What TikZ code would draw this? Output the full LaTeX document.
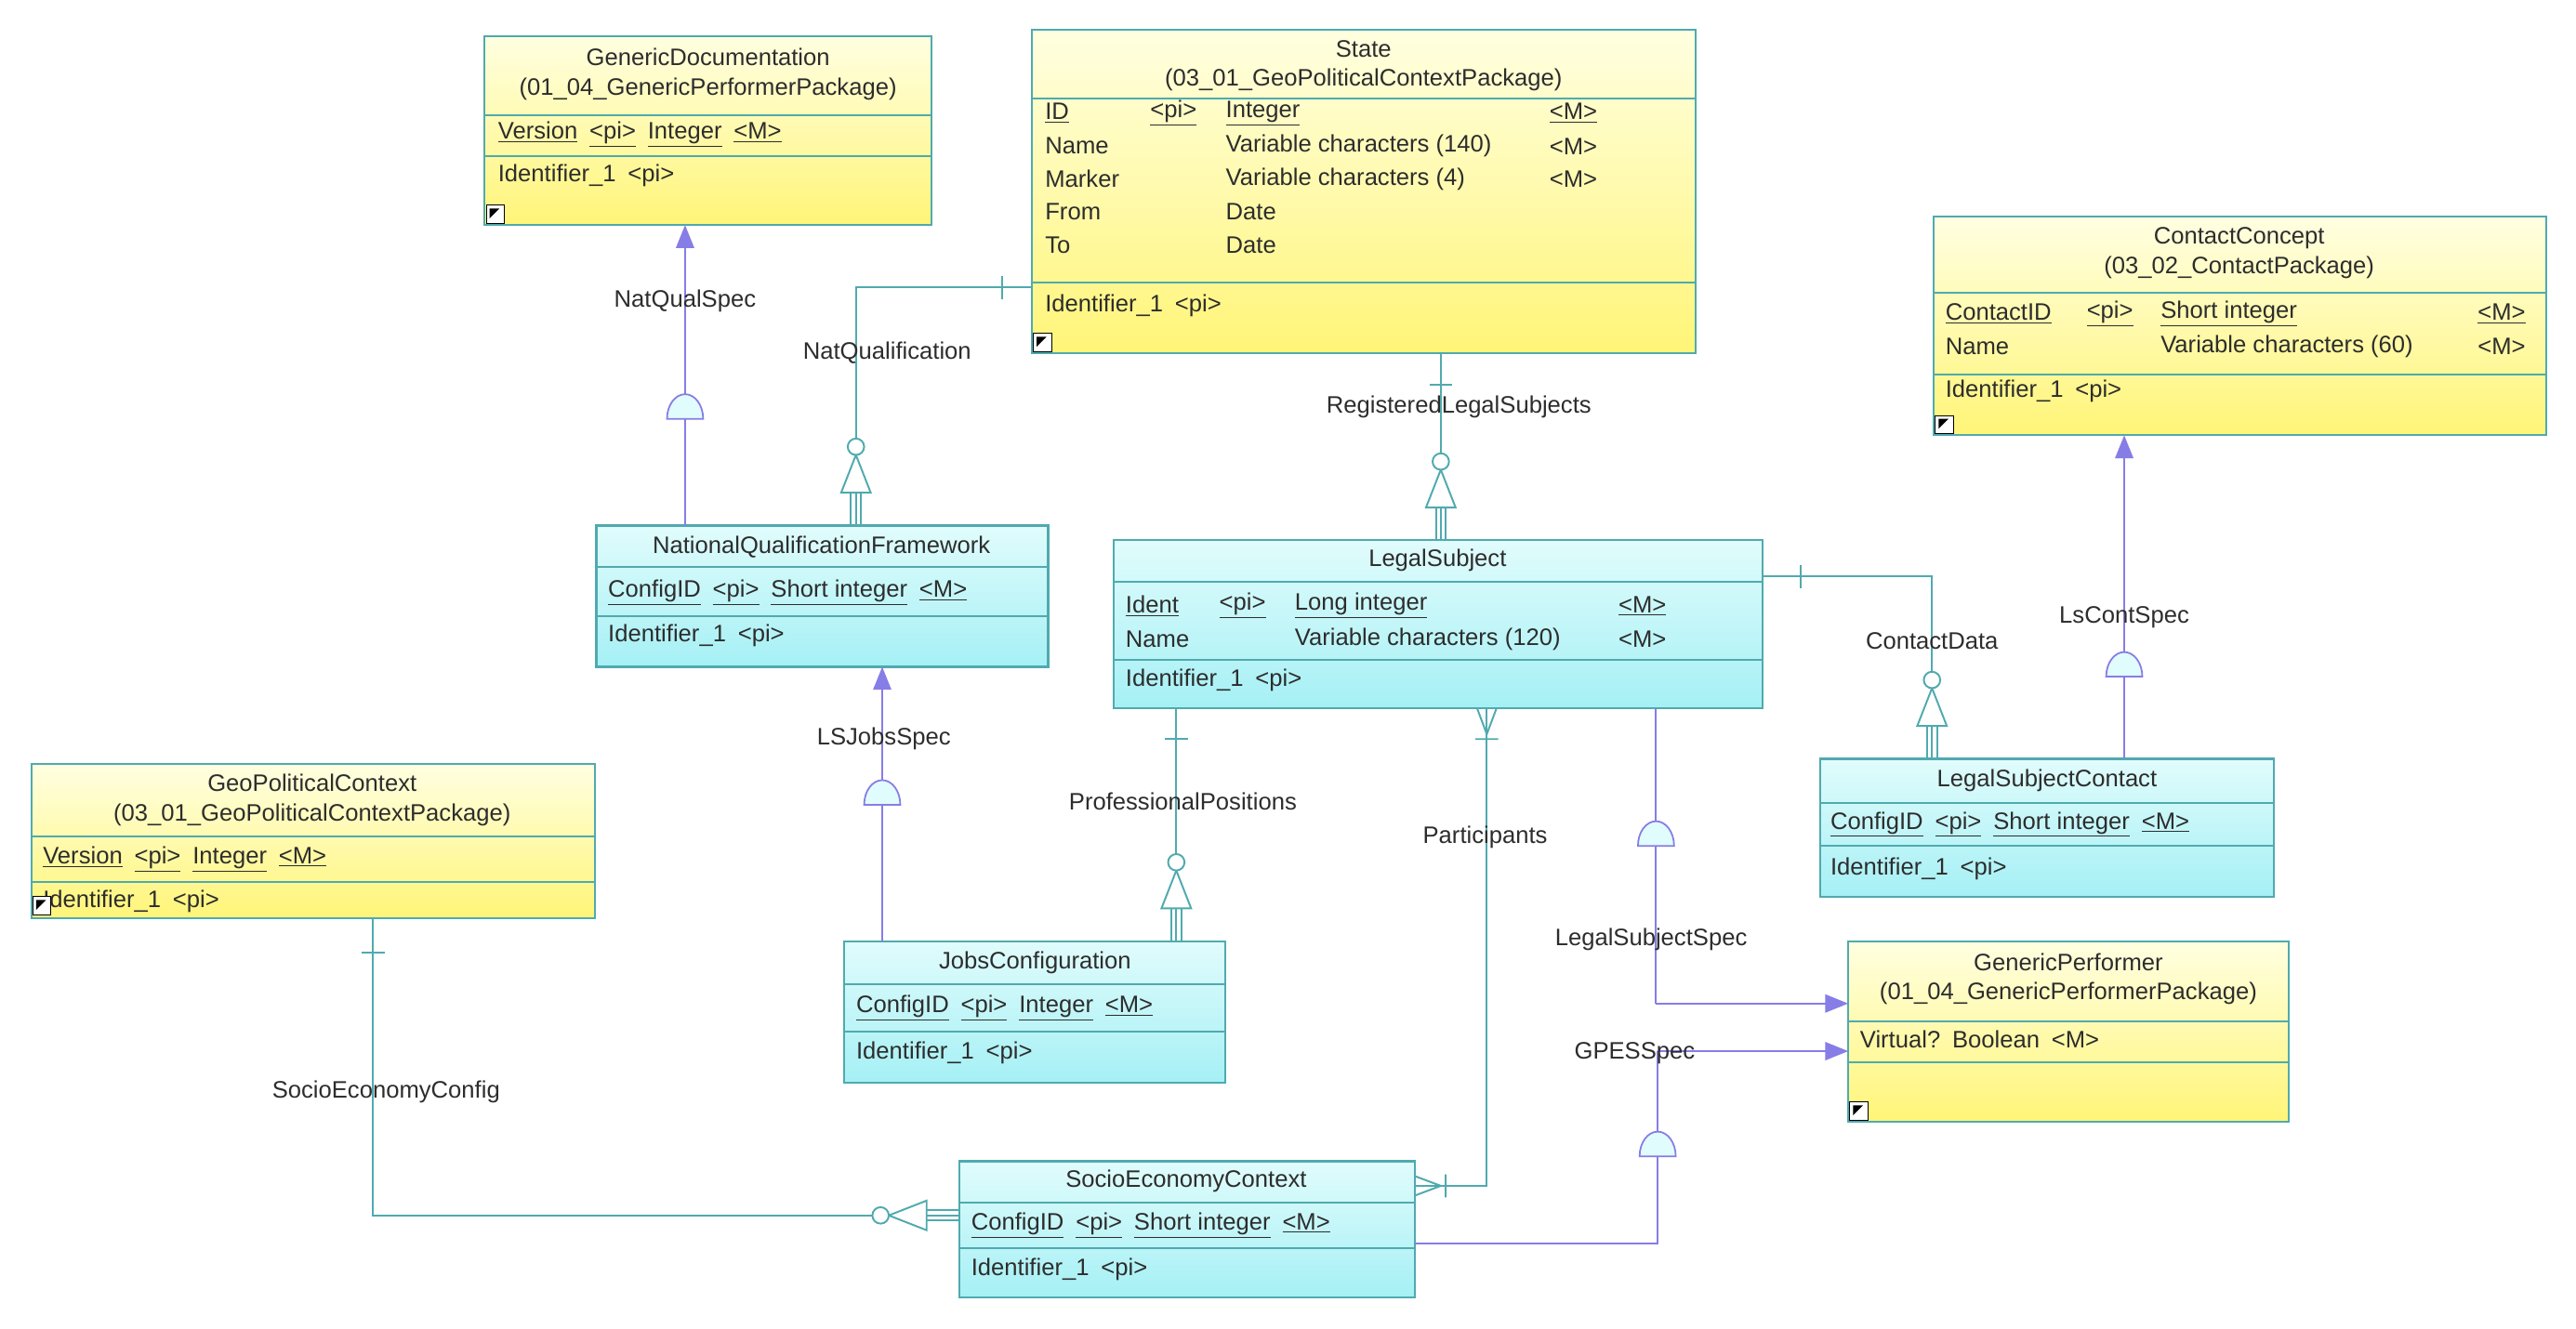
\documentclass[tikz,border=0pt]{standalone}
\usepackage{fontspec}
\setmainfont{Liberation Sans}
\usetikzlibrary{arrows.meta}
\definecolor{teal1}{RGB}{80,170,175}
\definecolor{vio}{RGB}{135,125,230}
\definecolor{cyA}{RGB}{225,252,252}
\definecolor{cyB}{RGB}{165,240,245}
\definecolor{yeA}{RGB}{255,255,225}
\definecolor{yeB}{RGB}{255,245,120}
\definecolor{txt}{RGB}{45,45,45}
\tikzset{
 ent/.style={draw=teal1,line width=1.2pt,inner sep=0,outer sep=0,anchor=north west},
 entcy/.style={ent,top color=cyA,bottom color=cyB},
 entye/.style={ent,top color=yeA,bottom color=yeB},
 esep/.style={teal1,line width=1.1pt},
 eatr/.style={anchor=west,inner sep=0,text=txt,font=\fontsize{14.5}{16}\selectfont},
 ettl/.style={anchor=center,inner sep=0,text=txt,align=center,font=\fontsize{14.5}{18}\selectfont},
 lbl/.style={inner sep=0,text=txt,font=\fontsize{14.5}{16}\selectfont},
 rel/.style={teal1,line width=1.1pt},
 inh/.style={vio,line width=1.1pt},
 inharr/.style={inh,-{Triangle[length=14pt,width=11pt]}},
}
\newcommand{\icn}[2]{\draw[black,fill=white,line width=0.6pt] (#1,#2) rectangle ++(11,-11);
 \fill[black] (#1+2,#2-9) -- (#1+8,#2-9) -- (#1+2,#2-3) -- cycle;}
\newcommand{\half}[2]{\filldraw[vio,fill=cyA,line width=1pt] (#1-11,#2) arc[start angle=180,end angle=0,x radius=11pt,y radius=15pt] -- cycle;}
\newcommand{\crow}[3]{\begin{scope}[shift={(#1,#2)},rotate=#3,teal1,line width=1.1pt]
 \draw (0pt,3pt) -- (21pt,3pt) (0pt,-3pt) -- (21pt,-3pt);
 \draw[fill=white] (20pt,-9pt) -- (20pt,9pt) -- (43pt,0pt) -- cycle;
 \draw[fill=white] (48pt,0pt) circle (5pt);
 \end{scope}}
\newcommand{\tick}[3]{\begin{scope}[shift={(#1,#2)},rotate=#3]\draw[teal1,line width=1.1pt] (0pt,-7pt) -- (0pt,7pt);\end{scope}}
\begin{document}
\begin{tikzpicture}[x=1pt,y=-1pt]
\useasboundingbox[fill=white] (0,0) rectangle (1568,809);
\coordinate (nq1) at (521,175);
\coordinate (cd1) at (1176,351);
\coordinate (pa1) at (905,722);
\coordinate (ls1) at (1008,611);
\coordinate (gp1) at (1009,757);
\coordinate (gp2) at (1009,640);
\coordinate (sc1) at (227,740);
% ---------- entities ----------
\node[entye,minimum width=272pt,minimum height=115pt] (gd) at (295,22) {};
\draw[esep] (295,70) -- (567,70) (295,95) -- (567,95);
\node[ettl] at (431,45) {GenericDocumentation\\(01\_04\_GenericPerformerPackage)};
\node[eatr] at (303,82) {\underline{Version}\enspace\underline{<pi>}\enspace\underline{Integer}\enspace\underline{<M>}};
\node[eatr] at (303,107) {Identifier\_1\enspace<pi>};
\icn{296}{136}

\node[entye,minimum width=404pt,minimum height=197pt] (st) at (628,18) {};
\draw[esep] (628,60) -- (1032,60) (628,172) -- (1032,172);
\node[ettl] at (830,40) {State\\(03\_01\_GeoPoliticalContextPackage)};
\foreach \n/\p/\t/\m [count=\i] in {\underline{ID}/\underline{<pi>}/\underline{Integer}/\underline{<M>},Name//Variable characters (140)/<M>,Marker//Variable characters (4)/<M>,From//Date/,To//Date/}{
 \node[eatr] at (636,59+\i*20-10) {\n};
 \node[eatr] at (700,59+\i*20-10) {\p};
 \node[eatr] at (746,59+\i*20-10) {\t};
 \node[eatr] at (943,59+\i*20-10) {\m};}
\node[eatr] at (636,186) {Identifier\_1\enspace<pi>};
\icn{629}{214}

\node[entye,minimum width=373pt,minimum height=133pt] (cc) at (1177,132) {};
\draw[esep] (1177,178) -- (1550,178) (1177,228) -- (1550,228);
\node[ettl] at (1363,154) {ContactConcept\\(03\_02\_ContactPackage)};
\node[eatr] at (1184,191) {\underline{ContactID}}; \node[eatr] at (1270,191) {\underline{<pi>}};
\node[eatr] at (1315,191) {\underline{Short integer}}; \node[eatr] at (1508,191) {\underline{<M>}};
\node[eatr] at (1184,211) {Name}; \node[eatr] at (1315,211) {Variable characters (60)}; \node[eatr] at (1508,211) {<M>};
\node[eatr] at (1184,238) {Identifier\_1\enspace<pi>};
\icn{1178}{264}

\node[entcy,minimum width=275pt,minimum height=86pt] (nqf) at (363,320) {};
\draw[esep] (363,345) -- (638,345) (363,375) -- (638,375);
\node[ettl] at (500,333) {NationalQualificationFramework};
\node[eatr] at (370,361) {\underline{ConfigID}\enspace\underline{<pi>}\enspace\underline{Short integer}\enspace\underline{<M>}};
\node[eatr] at (370,387) {Identifier\_1\enspace<pi>};

\node[entcy,minimum width=395pt,minimum height=102pt] (ls) at (678,329) {};
\draw[esep] (678,354) -- (1073,354) (678,402) -- (1073,402);
\node[ettl] at (875,341) {LegalSubject};
\node[eatr] at (685,369) {\underline{Ident}}; \node[eatr] at (742,369) {\underline{<pi>}};
\node[eatr] at (788,369) {\underline{Long integer}}; \node[eatr] at (985,369) {\underline{<M>}};
\node[eatr] at (685,389) {Name}; \node[eatr] at (788,389) {Variable characters (120)}; \node[eatr] at (985,389) {<M>};
\node[eatr] at (685,414) {Identifier\_1\enspace<pi>};

\node[entcy,minimum width=276pt,minimum height=84pt] (lsc) at (1108,462) {};
\draw[esep] (1108,489) -- (1384,489) (1108,515) -- (1384,515);
\node[ettl] at (1246,475) {LegalSubjectContact};
\node[eatr] at (1114,502) {\underline{ConfigID}\enspace\underline{<pi>}\enspace\underline{Short integer}\enspace\underline{<M>}};
\node[eatr] at (1114,529) {Identifier\_1\enspace<pi>};

\node[entye,minimum width=343pt,minimum height=94pt] (gpc) at (19,465) {};
\draw[esep] (19,509) -- (362,509) (19,537) -- (362,537);
\node[ettl] at (190,487) {GeoPoliticalContext\\(03\_01\_GeoPoliticalContextPackage)};
\node[eatr] at (26,523) {\underline{Version}\enspace\underline{<pi>}\enspace\underline{Integer}\enspace\underline{<M>}};
\node[eatr] at (26,549) {Identifier\_1\enspace<pi>};
\icn{20}{557}

\node[entcy,minimum width=232pt,minimum height=86pt] (jc) at (514,573) {};
\draw[esep] (514,599) -- (746,599) (514,628) -- (746,628);
\node[ettl] at (630,586) {JobsConfiguration};
\node[eatr] at (521,614) {\underline{ConfigID}\enspace\underline{<pi>}\enspace\underline{Integer}\enspace\underline{<M>}};
\node[eatr] at (521,641) {Identifier\_1\enspace<pi>};

\node[entye,minimum width=268pt,minimum height=110pt] (gp) at (1125,573) {};
\draw[esep] (1125,622) -- (1393,622) (1125,647) -- (1393,647);
\node[ettl] at (1259,596) {GenericPerformer\\(01\_04\_GenericPerformerPackage)};
\node[eatr] at (1132,633) {Virtual?\enspace Boolean\enspace <M>};
\icn{1126}{682}

\node[entcy,minimum width=277pt,minimum height=83pt] (sec) at (584,707) {};
\draw[esep] (584,732) -- (861,732) (584,760) -- (861,760);
\node[ettl] at (722,719) {SocioEconomyContext};
\node[eatr] at (591,746) {\underline{ConfigID}\enspace\underline{<pi>}\enspace\underline{Short integer}\enspace\underline{<M>}};
\node[eatr] at (591,773) {Identifier\_1\enspace<pi>};

% ---------- relationships ----------
\draw[inharr] (nqf.north -| 417,0) -- (gd.south -| 417,0);
\half{417}{255}
\node[lbl] at (417,183) {NatQualSpec};
\draw[rel] (nqf.north -| nq1) -- (nq1) -- (nq1 -| st.west);
\tick{610}{175}{0}
\crow{521}{320}{90}
\node[lbl] at (540,215) {NatQualification};
\draw[rel] (st.south -| 877,0) -- (ls.north -| 877,0);
\tick{877}{234}{90}
\crow{877}{329}{90}
\node[lbl] at (888,248) {RegisteredLegalSubjects};
\draw[rel] (ls.east |- cd1) -- (cd1) -- (cd1 |- lsc.north);
\tick{1096}{351}{0}
\crow{1176}{462}{90}
\node[lbl] at (1176,390) {ContactData};
\draw[inharr] (lsc.north -| 1293,0) -- (cc.south -| 1293,0);
\half{1293}{412}
\node[lbl] at (1293,376) {LsContSpec};
\draw[inharr] (jc.north -| 537,0) -- (nqf.south -| 537,0);
\half{537}{490}
\node[lbl] at (538,450) {LSJobsSpec};
\draw[rel] (ls.south -| 716,0) -- (jc.north -| 716,0);
\tick{716}{450}{90}
\crow{716}{573}{90}
\node[lbl] at (720,488) {ProfessionalPositions};
\draw[rel] (ls.south -| pa1) -- (pa1) -- (pa1 -| sec.east);
\draw[rel] (899,431) -- (905,447) -- (911,431) (898,450) -- (912,450);
\draw[rel] (861,716) -- (877,722) -- (861,728) (880,715) -- (880,729);
\node[lbl] at (904,510) {Participants};
\draw[inh] (ls.south -| ls1) -- (ls1);
\draw[inharr] (ls1) -- (ls1 -| gp.west);
\half{1008}{515}
\node[lbl] at (1005,572) {LegalSubjectSpec};
\draw[inh] (sec.east |- gp1) -- (gp1) -- (gp2);
\draw[inharr] (gp2) -- (gp2 -| gp.west);
\half{1009}{704}
\node[lbl] at (995,641) {GPESSpec};
\draw[rel] (gpc.south -| sc1) -- (sc1) -- (sc1 -| sec.west);
\tick{227}{580}{90}
\crow{584}{740}{180}
\node[lbl] at (235,665) {SocioEconomyConfig};
\end{tikzpicture}
\end{document}
